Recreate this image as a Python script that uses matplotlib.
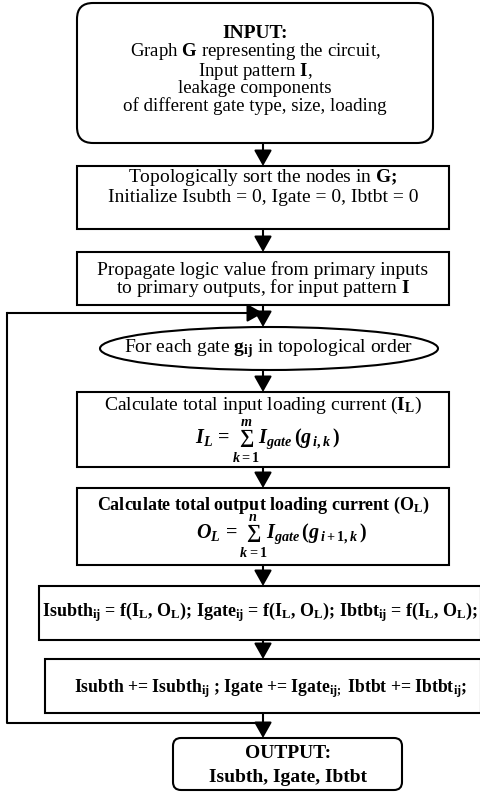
import matplotlib
matplotlib.use("Agg")
import matplotlib.pyplot as plt
from matplotlib.patches import FancyBboxPatch, Rectangle, Ellipse

plt.rcParams['mathtext.fontset'] = 'custom'
plt.rcParams['mathtext.rm'] = 'Liberation Serif:bold'
plt.rcParams['mathtext.bf'] = 'Liberation Serif:bold'
plt.rcParams['mathtext.it'] = 'Liberation Serif:bold:italic'

# ---- texts ----
input_title = "INPUT:"
input_lines = [r"Graph $\mathbf{G}$ representing the circuit,",
               r"Input pattern $\mathbf{I}$,",
               "leakage components",
               "of different gate type, size, loading"]
sort_lines = [r"Topologically sort the nodes in $\mathbf{G;}$",
              "Initialize Isubth = 0, Igate = 0, Ibtbt = 0"]
prop_lines = ["Propagate logic value from primary inputs",
              r"to primary outputs, for input pattern $\mathbf{I}$"]
loop_text = r"For each gate $\mathbf{g_{ij}}$ in topological order"
il_title = r"Calculate total input loading current ($\mathbf{I_L}$)"
il_formula = r"$I_L\,=\sum_{k=1}^{m} I_{gate}\,(g_{\,i,k}\,)$"
ol_title = r"Calculate total output loading current ($\mathbf{O_L}$)"
ol_formula = r"$O_L\,=\sum_{k=1}^{n} I_{gate}\,(g_{\,i+1,k}\,)$"
leak_text = (r"Isubth$_{\mathbf{ij}}$ = f(I$_{\mathbf{L}}$, O$_{\mathbf{L}}$); "
             r"Igate$_{\mathbf{ij}}$ = f(I$_{\mathbf{L}}$, O$_{\mathbf{L}}$); "
             r"Ibtbt$_{\mathbf{ij}}$ = f(I$_{\mathbf{L}}$, O$_{\mathbf{L}}$);")
acc_text = (r"Isubth += Isubth$_{\mathbf{ij}}$ ; Igate += Igate$_{\mathbf{ij;}}$ "
            r"Ibtbt += Ibtbt$_{\mathbf{ij}}$;")
output_lines = ["OUTPUT:", "Isubth, Igate, Ibtbt"]

fig = plt.figure(figsize=(4.8, 7.92), dpi=100)
ax = fig.add_axes([0, 0, 1, 1])
ax.set_xlim(0, 480)
ax.set_ylim(792, 0)
ax.axis('off')

LW = 1.5
FS = 14
FAM = 'Liberation Serif'


def rect(x0, y0, x1, y1):
    ax.add_patch(Rectangle((x0, y0), x1 - x0, y1 - y0, fill=False, lw=LW, ec='black'))


def rbox(x0, y0, x1, y1, r):
    ax.add_patch(FancyBboxPatch((x0 + r, y0 + r), x1 - x0 - 2 * r, y1 - y0 - 2 * r,
                                boxstyle=f"round,pad={r},rounding_size={r}",
                                fill=False, lw=LW, ec='black', mutation_aspect=1))


def txt(x, y, s, bold=False, ha='center', fs=FS):
    ax.text(x, y, s, ha=ha, va='center', fontsize=fs, family=FAM,
            weight='bold' if bold else 'normal')


def arrow(x0, y0, x1, y1):
    ax.annotate('', xy=(x1, y1), xytext=(x0, y0),
                arrowprops=dict(arrowstyle='-|>,head_length=0.8,head_width=0.45',
                                lw=LW, color='black', shrinkA=0, shrinkB=0,
                                mutation_scale=12))


CX = 263
# Box 1
rbox(77, 3, 433, 143, 16)
txt(255, 33, input_title, bold=True)
for y, s in zip([51, 71, 88.5, 106], input_lines):
    txt(255, y, s, fs=13.6)
arrow(CX, 143, CX, 166)
# Box 2
rect(77, 166, 449, 229)
txt(CX, 177, sort_lines[0])
txt(CX, 197, sort_lines[1])
arrow(CX, 229, CX, 252)
# Box 3
rect(77, 252, 449, 305)
txt(CX, 270, prop_lines[0])
txt(CX, 288, prop_lines[1])
arrow(CX, 305, CX, 327)
# Ellipse
ax.add_patch(Ellipse((269, 348.5), 338, 43, fill=False, lw=LW, ec='black'))
txt(269, 349, loop_text)
arrow(CX, 370, CX, 392)
# Box 4
rect(77, 392, 449, 467)
txt(CX, 405, il_title)
txt(268, 441, il_formula, fs=14.5)
arrow(CX, 467, CX, 488)
# Box 5
rect(77, 488, 449, 565)
txt(CX, 505, ol_title, bold=True, fs=13)
txt(282, 536, ol_formula, fs=14.5)
arrow(CX, 565, CX, 586)
# Box 6
rect(39, 586, 481, 640)
txt(42, 612, leak_text, bold=True, ha='left', fs=13)
arrow(CX, 640, CX, 659)
# Box 7
rect(45, 659, 481, 713)
txt(271, 689, acc_text, bold=True, fs=12.7)
arrow(CX, 713, CX, 738)
# Output
rbox(173, 738, 402, 790, 8)
txt(288, 753, output_lines[0], bold=True)
txt(288, 778, output_lines[1], bold=True)
# Loop back
ax.plot([CX, 7, 7], [723, 723, 313], color='black', lw=LW, solid_capstyle='projecting')
arrow(7, 313, CX, 313)

fig.savefig('out.png', dpi=100)
